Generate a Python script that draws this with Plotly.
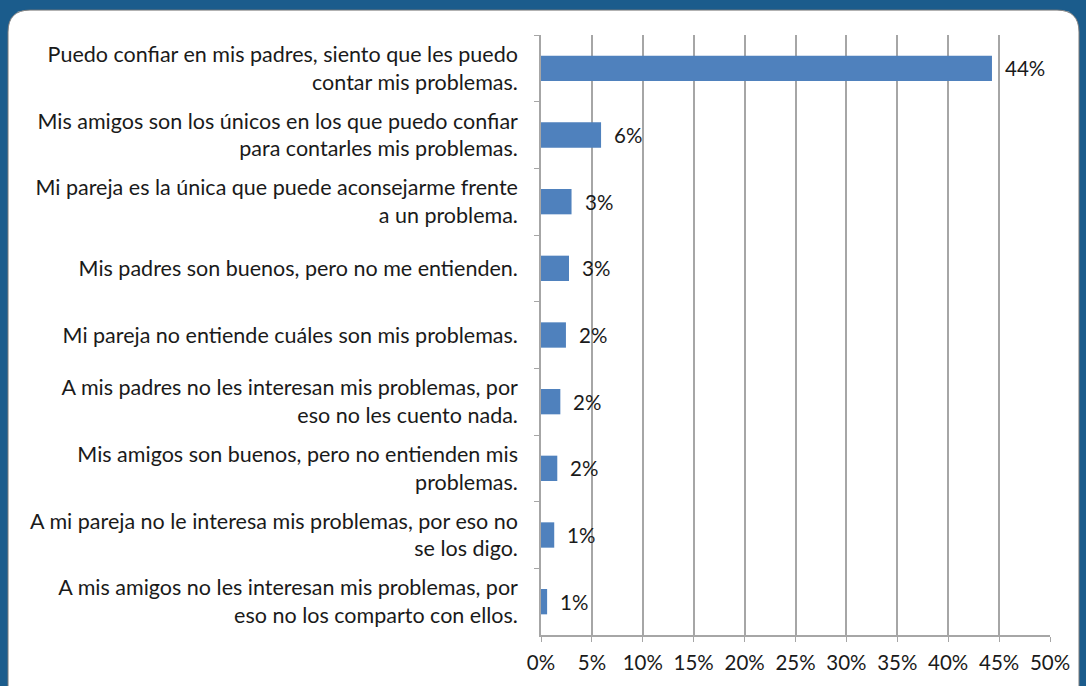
import plotly.graph_objects as go

categories = [
    "Puedo confiar en mis padres, siento que les puedo<br>contar mis problemas.",
    "Mis amigos son los únicos en los que puedo confiar<br>para contarles mis problemas.",
    "Mi pareja es la única que puede aconsejarme frente<br>a un problema.",
    "Mis padres son buenos, pero no me entienden.",
    "Mi pareja no entiende cuáles son mis problemas.",
    "A mis padres no les interesan mis problemas, por<br>eso no les cuento nada.",
    "Mis amigos son buenos, pero no entienden mis<br>problemas.",
    "A mi pareja no le interesa mis problemas, por eso no<br>se los digo.",
    "A mis amigos no les interesan mis problemas, por<br>eso no los comparto con ellos.",
]
values = [44.3, 5.9, 3.0, 2.75, 2.45, 1.9, 1.6, 1.3, 0.6]
labels = ["44%", "6%", "3%", "3%", "2%", "2%", "2%", "1%", "1%"]
tick_vals = [0, 5, 10, 15, 20, 25, 30, 35, 40, 45, 50]
tick_text = ["0%", "5%", "10%", "15%", "20%", "25%", "30%", "35%", "40%", "45%", "50%"]

W, H = 1086, 686
ML, MR, MT, MB = 541, 36, 35, 49
PW, PH = W - ML - MR, H - MT - MB
FONT = "Lato"
TXT = "#1a1a1a"

fig = go.Figure()
fig.add_trace(go.Bar(
    x=values, y=categories, orientation="h",
    marker=dict(color="#4f81bd", line=dict(width=0)),
    hoverinfo="skip",
))

for v, c, t in zip(values, categories, labels):
    fig.add_annotation(x=v, y=c, text=t, showarrow=False, xanchor="left",
                       xshift=11, font=dict(family=FONT, size=20.5, color=TXT))

# white rounded panel on blue background
def px2x(px):
    return (px - ML) / PW

def px2y(py):
    return 1 - (py - MT) / PH

x0, x1, y0, y1, r = 8, 1079, 10, 690, 22
path = (f"M {px2x(x0 + r)},{px2y(y0)} L {px2x(x1 - r)},{px2y(y0)} "
        f"Q {px2x(x1)},{px2y(y0)} {px2x(x1)},{px2y(y0 + r)} "
        f"L {px2x(x1)},{px2y(y1)} L {px2x(x0)},{px2y(y1)} "
        f"L {px2x(x0)},{px2y(y0 + r)} Q {px2x(x0)},{px2y(y0)} {px2x(x0 + r)},{px2y(y0)} Z")
fig.add_shape(type="path", path=path, xref="paper", yref="paper",
              fillcolor="white", line=dict(color="#7a7a7a", width=1), layer="below")

fig.update_layout(
    width=W, height=H,
    margin=dict(l=ML, r=MR, t=MT, b=MB),
    paper_bgcolor="#1b5c8c",
    plot_bgcolor="rgba(0,0,0,0)",
    bargap=0.62,
    showlegend=False,
    font=dict(family=FONT, size=18, color=TXT),
    xaxis=dict(
        range=[0, 50], tickvals=tick_vals, ticktext=tick_text,
        showgrid=True, gridcolor="#a6a6a6", gridwidth=1.5,
        showline=True, linecolor="#a6a6a6", linewidth=1.5,
        ticks="outside", ticklen=5, tickcolor="#a6a6a6",
        zeroline=False, fixedrange=True, ticklabelstandoff=4,
        tickfont=dict(family=FONT, size=20.5, color=TXT),
    ),
    yaxis=dict(
        autorange="reversed", showline=True, linecolor="#a6a6a6", linewidth=1.5,
        ticks="outside", ticklen=5, tickcolor="#a6a6a6", tickson="boundaries",
        showgrid=False, fixedrange=True, ticklabelstandoff=17,
        tickfont=dict(family=FONT, size=21.5, color=TXT),
    ),
)

fig.write_html("out.html", config={"displayModeBar": False},
               post_script="document.body.style.margin='0';document.body.style.overflow='hidden';")
